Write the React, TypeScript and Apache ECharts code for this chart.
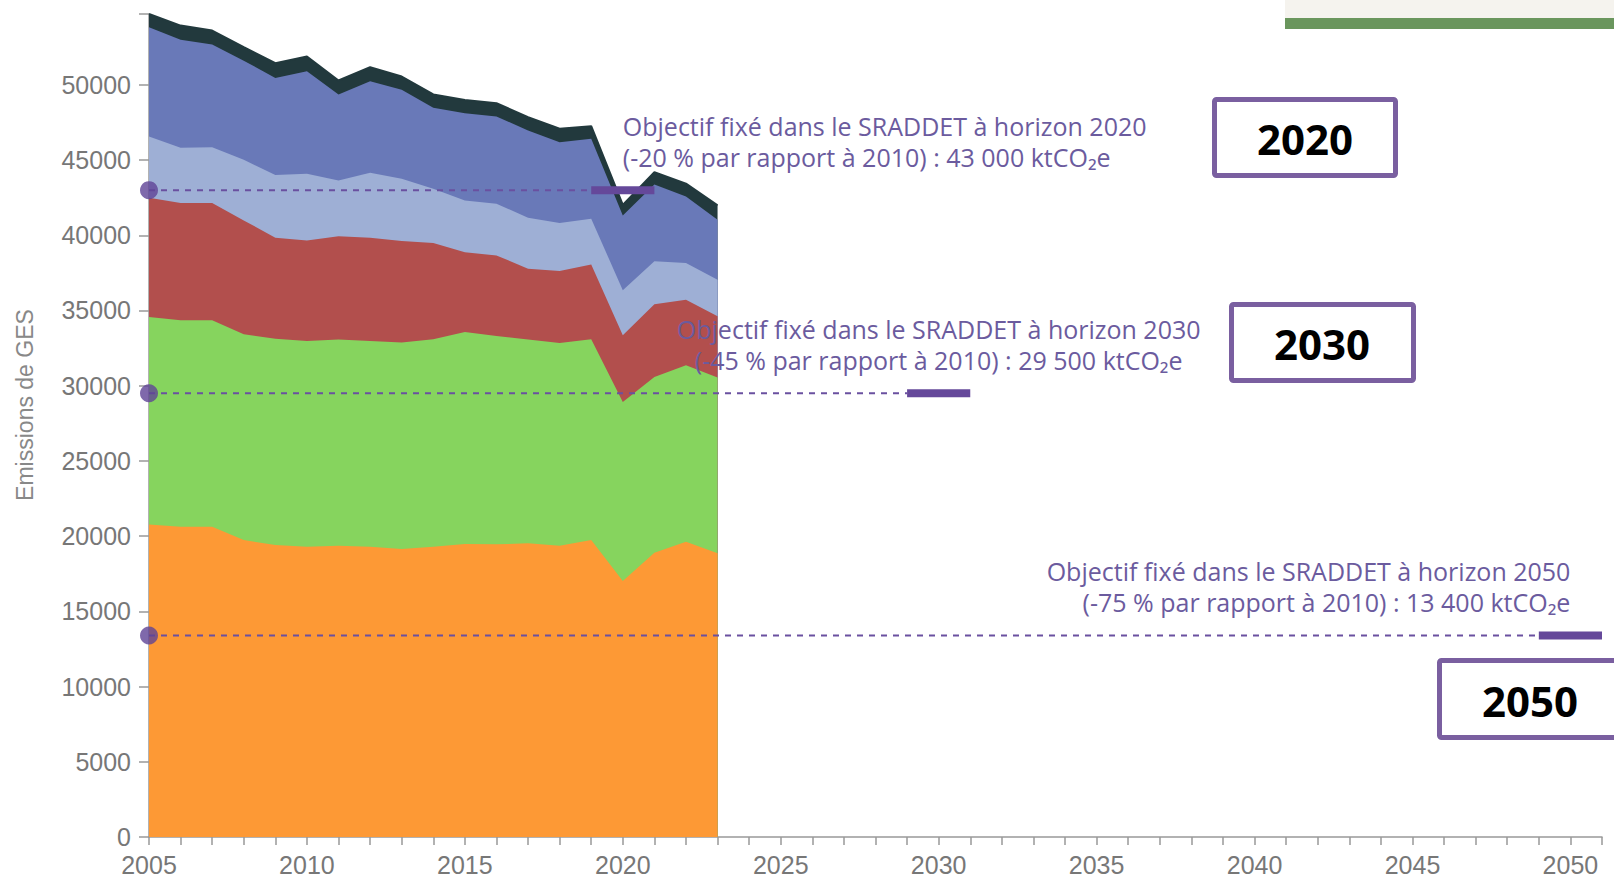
import React, { useEffect, useRef } from "react";
import * as echarts from "echarts";

const years = [2005, 2006, 2007, 2008, 2009, 2010, 2011, 2012, 2013, 2014, 2015, 2016, 2017, 2018, 2019, 2020, 2021, 2022, 2023];
const seriesOrange = [20780, 20620, 20620, 19740, 19410, 19300, 19360, 19300, 19140, 19300, 19480, 19460, 19520, 19360, 19740, 17020, 18900, 19630, 18860];
const seriesGreen = [13790, 13730, 13730, 13680, 13720, 13670, 13710, 13670, 13730, 13790, 14090, 13850, 13550, 13480, 13350, 11900, 11680, 11730, 11680];
const seriesRed = [7930, 7790, 7790, 7570, 6710, 6690, 6860, 6870, 6750, 6390, 5310, 5350, 4710, 4780, 4960, 4430, 4830, 4360, 4070];
const seriesLightBlue = [4070, 3680, 3720, 4030, 4160, 4430, 3720, 4320, 4140, 3610, 3440, 3440, 3390, 3190, 3050, 3000, 2860, 2440, 2440];
const seriesBlue = [7260, 7170, 6820, 6590, 6460, 6810, 5710, 6080, 5910, 5380, 5790, 5800, 5800, 5380, 5310, 4970, 5110, 4420, 3980];
const seriesDark = [880, 950, 930, 890, 980, 980, 930, 930, 880, 890, 890, 880, 880, 890, 840, 700, 820, 850, 960];

const seriesNames = ["Secteur 1", "Secteur 2", "Secteur 3", "Secteur 4", "Secteur 5", "Secteur 6"];
const seriesColors = ["#fd9935", "#86d45e", "#b24f4d", "#9eafd5", "#6979b8", "#22393d"];

const objectiveYears = [2020, 2030, 2050];
const objectiveValues = [43000, 29500, 13400];
const objectiveLine1 = [
  "Objectif fixé dans le SRADDET à horizon 2020",
  "Objectif fixé dans le SRADDET à horizon 2030",
  "Objectif fixé dans le SRADDET à horizon 2050",
];
const objectiveLine2 = [
  "(-20 % par rapport à 2010) : 43 000 ktCO₂e",
  "(-45 % par rapport à 2010) : 29 500 ktCO₂e",
  "(-75 % par rapport à 2010) : 13 400 ktCO₂e",
];
const objectiveAlign = ["left", "center", "right"];
const boxLabels = ["2020", "2030", "2050"];

const xMin = 2005;
const xMax = 2051;
const yAxisName = "Emissions de GES";

export default function App() {
  const ref = useRef<HTMLDivElement>(null);

  useEffect(() => {
    if (!ref.current) return;
    const chart = echarts.init(ref.current, undefined, { renderer: "svg" });

    const stacks = [seriesOrange, seriesGreen, seriesRed, seriesLightBlue, seriesBlue, seriesDark];
    // cumulative sums (stack computed here, drawn top-down with opaque fills)
    const cumulative: number[][] = [];
    stacks.forEach((arr, k) => {
      cumulative.push(arr.map((v, i) => v + (k > 0 ? cumulative[k - 1][i] : 0)));
    });
    const totals = cumulative[cumulative.length - 1];
    const yMax = Math.max(...totals);

    const areaSeries = stacks
      .map((_, k) => ({
        name: seriesNames[k],
        type: "line",
        data: years.map((y, i) => [y, cumulative[k][i]]),
        symbol: "none",
        lineStyle: k === 5 ? { width: 2, color: seriesColors[k] } : { width: 0 },
        areaStyle: { color: seriesColors[k], opacity: 1, origin: "start" },
        itemStyle: { color: seriesColors[k] },
        z: 2,
      }))
      .reverse();

    const dashSeries = objectiveYears.map((yr, k) => ({
      type: "line",
      data: [[xMin, objectiveValues[k]], [yr - 1, objectiveValues[k]]],
      symbol: "none",
      lineStyle: { color: "#6a50a0", width: 2, type: [6, 6] },
      z: 5,
    }));

    const barSeries = objectiveYears.map((yr, k) => ({
      type: "line",
      data: [[yr - 1, objectiveValues[k]], [yr + 1, objectiveValues[k]]],
      symbol: "none",
      lineStyle: { color: "#65489a", width: 8, cap: "butt" },
      z: 6,
    }));

    const dotSeries = {
      type: "scatter",
      data: objectiveValues.map((v) => [xMin, v]),
      symbolSize: 18,
      itemStyle: { color: "#5f4396" },
      z: 7,
    };

    chart.setOption({
      animation: false,
      grid: { left: 149, top: 14, right: 12, bottom: 43, containLabel: false },
      xAxis: {
        type: "value",
        min: xMin,
        max: xMax,
        interval: 1,
        splitLine: { show: false },
        axisLine: { lineStyle: { color: "#999", width: 1.5 } },
        axisTick: { show: true, length: 8, lineStyle: { color: "#999", width: 1.5 } },
        axisLabel: {
          color: "#777",
          fontFamily: "Liberation Sans",
          fontSize: 25,
          margin: 15,
          formatter: (v: number) => (v % 5 === 0 && v <= 2050 ? String(v) : ""),
        },
      },
      yAxis: {
        type: "value",
        min: 0,
        max: yMax,
        interval: 5000,
        splitLine: { show: false },
        axisLine: { show: true, lineStyle: { color: "#999", width: 1.5 } },
        axisTick: { show: true, length: 10, lineStyle: { color: "#999", width: 1.5 } },
        axisLabel: {
          color: "#777",
          fontFamily: "Liberation Sans",
          fontSize: 25,
          margin: 18,
          formatter: (v: number) => (v % 5000 === 0 ? String(v) : ""),
        },
      },
      series: [...areaSeries, ...dashSeries, ...barSeries, dotSeries],
    });

    const graphics: any[] = [];
    objectiveYears.forEach((yr, k) => {
      const p = chart.convertToPixel({ gridIndex: 0 }, [yr, objectiveValues[k]]) as number[];
      const base = {
        fill: "#6b5b9e",
        fontFamily: "Open Sans",
        fontSize: 25,
        align: objectiveAlign[k],
        verticalAlign: "middle",
      };
      graphics.push({ type: "text", x: p[0], y: p[1] - 64, z: 20, style: { ...base, text: objectiveLine1[k] } });
      graphics.push({ type: "text", x: p[0], y: p[1] - 33, z: 20, style: { ...base, text: objectiveLine2[k] } });
    });

    // y-axis title
    graphics.push({
      type: "text",
      x: 25,
      y: 405,
      rotation: Math.PI / 2,
      style: {
        text: yAxisName,
        fill: "#888",
        fontFamily: "Liberation Sans",
        fontSize: 23,
        align: "center",
        verticalAlign: "middle",
      },
    });

    // top-right decoration
    graphics.push({ type: "rect", shape: { x: 1285, y: 0, width: 340, height: 18 }, style: { fill: "#f5f3ee" } });
    graphics.push({ type: "rect", shape: { x: 1285, y: 18, width: 340, height: 11 }, style: { fill: "#6a965d" } });

    // framed year boxes
    const boxes = [
      { x: 1214.5, y: 99.5, w: 181, h: 76, cx: 1305, cy: 138 },
      { x: 1231.5, y: 304.5, w: 182, h: 76, cx: 1322, cy: 343 },
      { x: 1439.5, y: 660.5, w: 200, h: 77, cx: 1530, cy: 700 },
    ];
    boxes.forEach((b, k) => {
      graphics.push({
        type: "rect",
        shape: { x: b.x, y: b.y, width: b.w, height: b.h, r: 2 },
        style: { fill: "#fff", stroke: "#7a5fa0", lineWidth: 5 },
        z: 30,
      });
      graphics.push({
        type: "text",
        x: b.cx,
        y: b.cy,
        z: 31,
        style: {
          text: boxLabels[k],
          fill: "#000",
          fontFamily: "Open Sans",
          fontWeight: "bold",
          fontSize: 42,
          align: "center",
          verticalAlign: "middle",
        },
      });
    });

    chart.setOption({ graphic: graphics });

    return () => chart.dispose();
  }, []);

  return (
    <div
      ref={ref}
      style={{ position: "fixed", left: 0, top: 0, width: 1614, height: 880, background: "#fff" }}
    />
  );
}
